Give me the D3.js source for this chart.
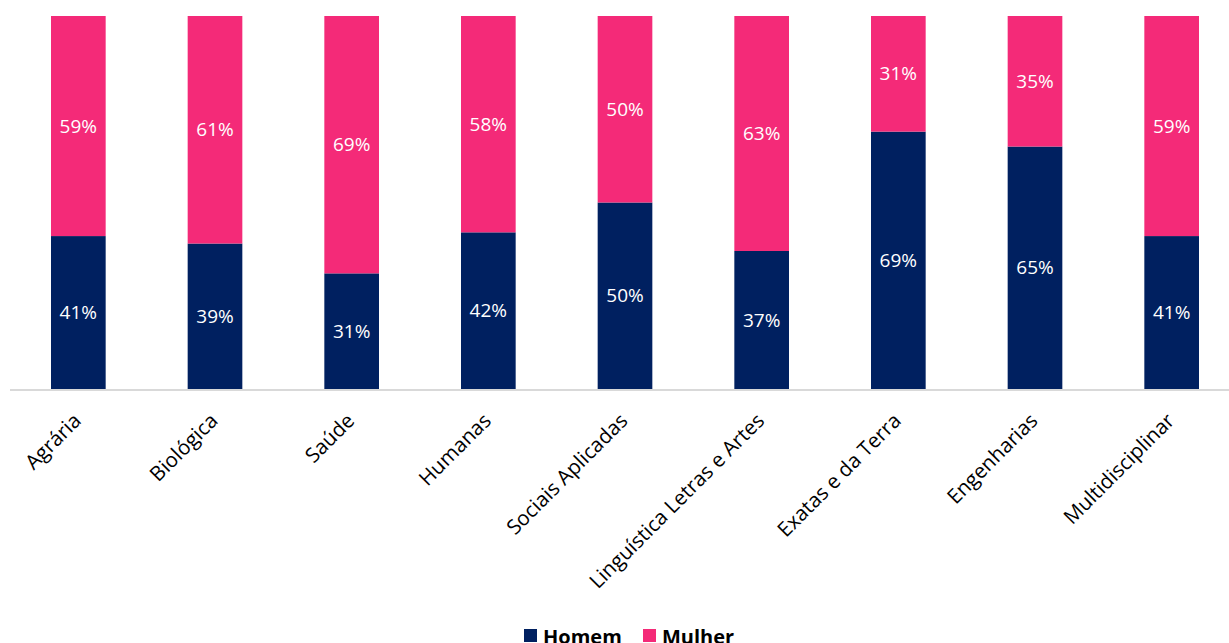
<!DOCTYPE html>
<html>
<head>
<meta charset="utf-8">
<script src="https://cdn.jsdelivr.net/npm/d3@7"></script>
<style>
  body { margin: 0; background: #fff; }
  text { font-family: "Open Sans", "Noto Sans", sans-serif; }
</style>
</head>
<body>
<script>
// categories and shares (%)
var categories = ["Agrária", "Biológica", "Saúde", "Humanas", "Sociais Aplicadas",
  "Linguística Letras e Artes", "Exatas e da Terra", "Engenharias", "Multidisciplinar"];
var homem = [41, 39, 31, 42, 50, 37, 69, 65, 41];
var mulher = [59, 61, 69, 58, 50, 63, 31, 35, 59];
var seriesNames = ["Homem", "Mulher"];
var colors = ["#002060", "#F42A78"];

var width = 1229;
var height = 643;

var svg = d3.select("body")
  .append("svg")
  .attr("width", width)
  .attr("height", height);

var x = d3.scaleBand()
  .domain(categories)
  .range([10, 1240])
  .paddingInner(0.6)
  .paddingOuter(0.3);

var y = d3.scaleLinear()
  .domain([0, 100])
  .range([389, 16]);

var rows = categories.map(function(c, i) {
  return { cat: c, Homem: homem[i], Mulher: mulher[i] };
});

var stack = d3.stack().keys(seriesNames)(rows);

var layer = svg.selectAll("g.layer")
  .data(stack)
  .enter()
  .append("g")
  .attr("class", "layer")
  .attr("fill", function(d, i) { return colors[i]; });

layer.selectAll("rect")
  .data(function(d) { return d; })
  .enter()
  .append("rect")
  .attr("x", function(d) { return x(d.data.cat); })
  .attr("width", x.bandwidth())
  .attr("y", function(d) { return y(d[1]); })
  .attr("height", function(d) { return y(d[0]) - y(d[1]); });

layer.selectAll("text")
  .data(function(d) { return d; })
  .enter()
  .append("text")
  .attr("x", function(d) { return x(d.data.cat) + x.bandwidth() / 2; })
  .attr("y", function(d) { return (y(d[0]) + y(d[1])) / 2; })
  .attr("dy", "0.35em")
  .attr("text-anchor", "middle")
  .attr("fill", "#fff")
  .style("font-size", "19px")
  .text(function(d) { return (d[1] - d[0]) + "%"; });

// baseline
svg.append("line")
  .attr("x1", 10)
  .attr("x2", width)
  .attr("y1", y(0) + 1)
  .attr("y2", y(0) + 1)
  .attr("stroke", "#d9d9d9")
  .attr("stroke-width", 2);

// category labels
svg.selectAll("text.cat")
  .data(categories)
  .enter()
  .append("text")
  .attr("class", "cat")
  .attr("transform", function(d) {
    return "translate(" + (x(d) + x.bandwidth() / 2 + 4) + "," + 422 + ") rotate(-45)";
  })
  .attr("text-anchor", "end")
  .attr("fill", "#000")
  .style("font-size", "20.5px")
  .text(function(d) { return d; });

// legend
var legend = svg.append("g").attr("transform", "translate(524,629)");
var legendX = [0, 119];
seriesNames.forEach(function(s, i) {
  var g = legend.append("g").attr("transform", "translate(" + legendX[i] + ",0)");
  g.append("rect")
    .attr("width", 13)
    .attr("height", 13)
    .attr("fill", colors[i]);
  g.append("text")
    .attr("x", 19)
    .attr("y", 15)
    .style("font-size", "20px")
    .style("font-weight", "bold")
    .text(s);
});
</script>
</body>
</html>
